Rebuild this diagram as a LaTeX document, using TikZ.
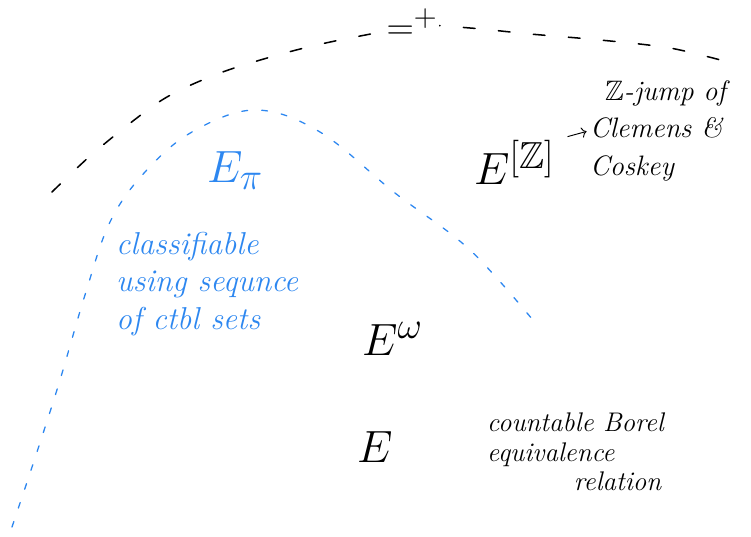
\documentclass[tikz,border=0pt]{standalone}
\usepackage{amsmath}
\usepackage{amssymb}
\usetikzlibrary{arrows.meta,positioning}
\definecolor{inkblue}{RGB}{45,135,240}
\newcommand{\bigrel}[1]{\scalebox{1.55}{$#1$}}

\begin{document}
\begin{tikzpicture}[x=0.03cm, y=-0.03cm,
    ink/.style={line width=1.3pt, line cap=round, dash pattern=on 10pt off 20pt},
    blueink/.style={inkblue, line width=1.1pt, line cap=round, dash pattern=on 5pt off 12pt},
    big/.style={font=\fontsize{24.88}{25}\selectfont, inner sep=0pt},
    note/.style={font=\fontsize{23}{25}\selectfont\itshape, align=left, inner sep=0pt},
    arrow/.style={-{To[length=1.5mm]}, line width=0.8pt}
]
\useasboundingbox (0,0) rectangle (751,537);

% Outer (black) and inner (blue) boundaries
\draw[ink] plot[smooth] coordinates {(52,192) (97,150) (162,100) (220,73) (285,53) (340,40) (420,26) (470,28) (530,34) (600,40) (670,48) (728,62)};
\draw[blueink] plot[smooth, tension=0.6] coordinates {(12,527) (36,455) (60,380) (85,295) (110,222) (145,172) (192,132) (255,110) (320,132) (395,193) (470,250) (537,325)};

% Relations
\node[big, fill=white, inner sep=1pt] (fs) at (412,24) {\scalebox{1.3}{$=^{+}$}};
\node[big, inkblue, anchor=base west] (epi) at (207,183) {\bigrel{E_\pi}};
\node[big, anchor=base west] (ezj) at (474,185) {\bigrel{E^{[\mathbb{Z}]}}};
\node[big, anchor=base west] (eom) at (362,355) {\bigrel{E^\omega}};
\node[big, anchor=base west] (e) at (357,462) {\bigrel{E}};

% Notes
\node[note, font=\fontsize{24}{32}\selectfont\itshape, anchor=north west] (cc) at (590,80) {\hspace*{0.45cm}$\mathbb{Z}$-jump of\\Clemens \&\\Coskey};
\draw[arrow, shorten <=0.4cm, shorten >=3pt] (ezj.north east) -- (cc.west);
\node[note, inkblue, font=\fontsize{27}{32}\selectfont\itshape, anchor=north west] (cls) at (116,232) {classifiable\\using sequnce\\of ctbl sets};
\node[note, anchor=north west] (cber) at (487,413) {countable Borel\\equivalence\\\hspace*{2.6cm}relation};
\end{tikzpicture}
\end{document}
